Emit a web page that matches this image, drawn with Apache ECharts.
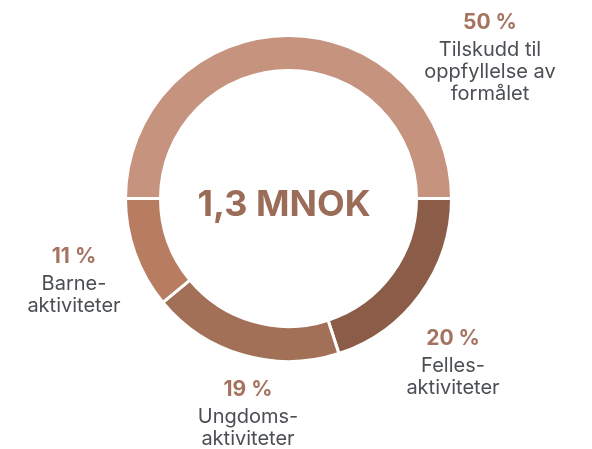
<!DOCTYPE html>
<html>
<head>
<meta charset="utf-8">
<script src="https://cdn.jsdelivr.net/npm/echarts@6/dist/echarts.min.js"></script>
<style>
  html, body { margin: 0; padding: 0; background: #fff; }
  #main { width: 592px; height: 449px; }
</style>
</head>
<body>
<div id="main"></div>
<script>
var names = ['Tilskudd til\noppfyllelse av\nformålet', 'Felles-\naktiviteter', 'Ungdoms-\naktiviteter', 'Barne-\naktiviteter'];
var shares = [50, 20, 19, 11];
var colors = ['#c6937f', '#8b5d48', '#a26f57', '#b87c61'];
var totalText = '1,3 MNOK';

// where each label block sits (centre x, top y)
var labelPos = [[490, 7], [453, 323], [248, 374], [74, 241]];

var dom = document.getElementById('main');
var myChart = echarts.init(dom, null, { renderer: 'canvas' });

var data = names.map(function (n, i) {
  return { name: n, value: shares[i], itemStyle: { color: colors[i] } };
});

var option = {
  animation: false,
  graphic: [{
    type: 'text',
    x: 284,
    y: 205,
    style: {
      text: totalText,
      font: 'bold 36px Inter',
      fill: '#9b6d58',
      align: 'center',
      verticalAlign: 'middle'
    }
  }],
  series: [{
    type: 'pie',
    center: [288.5, 198.5],
    radius: [128, 163],
    startAngle: 180,
    clockwise: true,
    avoidLabelOverlap: false,
    itemStyle: { borderColor: '#fff', borderWidth: 3 },
    labelLine: { show: false },
    label: {
      show: true,
      position: 'outside',
      formatter: function (p) {
        var lines = p.name.split('\n').map(function (l) { return '{n|' + l + '}'; });
        return '{p|' + p.value + ' %}\n' + lines.join('\n');
      },
      rich: {
        p: { fontFamily: 'Inter', fontWeight: 'bold', fontSize: 21, lineHeight: 32, color: '#a57360', align: 'center' },
        n: { fontFamily: 'Inter', fontSize: 20, lineHeight: 22, color: '#4b4e53', align: 'center' }
      }
    },
    labelLayout: function (params) {
      var pos = labelPos[params.dataIndex];
      return { x: pos[0], y: pos[1], align: 'center', verticalAlign: 'top' };
    },
    emphasis: { disabled: true },
    data: data
  }]
};

myChart.setOption(option);
window.addEventListener('resize', myChart.resize);
</script>
</body>
</html>
